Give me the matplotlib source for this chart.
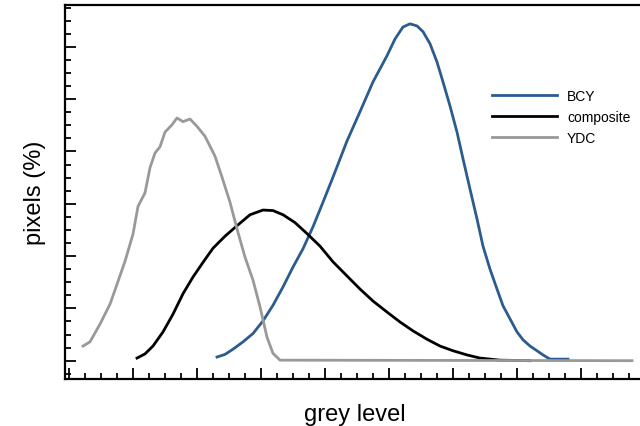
import matplotlib.pyplot as plt
from matplotlib.ticker import MultipleLocator

plt.rcParams['font.family'] = ['Liberation Sans', 'DejaVu Sans']

# grey level histograms (x: grey level, y: pixels %)
ydc_x = [7, 10.5, 15.5, 20.5, 24, 28, 32, 34.5, 38, 40.5, 43, 45.5, 48, 51.5, 54,
         57, 60.5, 64, 68, 73, 76.5, 80.5, 84, 88, 92, 95.5, 99, 102, 105.5, 281.5]
ydc_y = [0.28, 0.36, 0.70, 1.08, 1.46, 1.90, 2.42, 2.95, 3.21, 3.69, 3.97, 4.09, 4.37, 4.51, 4.64,
         4.57, 4.62, 4.48, 4.29, 3.91, 3.51, 3.03, 2.52, 1.98, 1.54, 1.03, 0.45, 0.14, 0.01, 0.0]

comp_x = [34, 38, 42, 47, 52, 57, 62, 67, 72, 78, 84, 90.5, 97, 102, 107, 113, 119, 125.5,
          132, 139, 145.5, 152, 159, 165.5, 172, 179, 185.5, 192, 199, 205.5, 215.5, 230.5]
comp_y = [0.05, 0.13, 0.28, 0.55, 0.89, 1.28, 1.60, 1.88, 2.15, 2.38, 2.58, 2.79, 2.88, 2.87,
          2.79, 2.64, 2.43, 2.19, 1.89, 1.62, 1.37, 1.14, 0.93, 0.74, 0.57, 0.41, 0.28, 0.19,
          0.11, 0.05, 0.01, 0.0]

bcy_x = [74, 78, 82, 87, 92, 97, 102, 107, 112, 117, 122, 127, 132, 139, 145.5, 152, 159,
         163, 167, 170.5, 174, 177, 180.5, 184, 187, 190.5, 194, 197, 200.5, 204, 207, 210.5,
         214, 217, 220.5, 224, 227, 230.5, 234, 237, 240.5, 244, 249.5]
bcy_y = [0.07, 0.12, 0.22, 0.36, 0.52, 0.76, 1.06, 1.41, 1.79, 2.14, 2.56, 3.03, 3.51, 4.20,
         4.76, 5.33, 5.83, 6.15, 6.38, 6.44, 6.40, 6.29, 6.06, 5.71, 5.33, 4.87, 4.37, 3.86,
         3.28, 2.71, 2.19, 1.75, 1.37, 1.05, 0.80, 0.55, 0.40, 0.28, 0.19, 0.11, 0.03, 0.03, 0.03]

fig = plt.figure(figsize=(6.4, 4.27), dpi=100)
ax = fig.add_axes([65 / 640, 47 / 427, 580 / 640, 374 / 427])

ax.plot(bcy_x, bcy_y, color='#2c5b8e', lw=2.0, label='BCY')
ax.plot(comp_x, comp_y, color='black', lw=2.0, label='composite')
ax.plot(ydc_x, ydc_y, color='#999999', lw=2.0, label='YDC')

ax.set_xlim(-2, 288)
ax.set_ylim(-0.35, 6.8)
ax.xaxis.set_major_locator(MultipleLocator(32))
ax.xaxis.set_minor_locator(MultipleLocator(8))
ax.yaxis.set_major_locator(MultipleLocator(1))
ax.yaxis.set_minor_locator(MultipleLocator(0.25))
ax.tick_params(which='both', direction='in', labelbottom=False, labelleft=False, width=1.3)
ax.tick_params(which='major', length=8)
ax.tick_params(which='minor', length=4)
for s in ax.spines.values():
    s.set_linewidth(1.6)

ax.set_xlabel('grey level', fontsize=17, labelpad=17)
ax.set_ylabel('pixels (%)', fontsize=17, labelpad=14)

ax.legend(loc='upper left', bbox_to_anchor=(0.736, 0.775), frameon=False, fontsize=10,
          handlelength=4.7, handletextpad=0.7, borderaxespad=0, borderpad=0, labelspacing=0.5)

fig.savefig('out.png', dpi=100)
